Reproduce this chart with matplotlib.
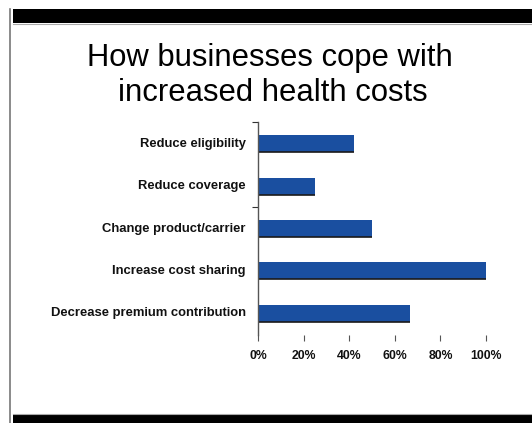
import matplotlib.pyplot as plt
from matplotlib.patches import Rectangle
from matplotlib.lines import Line2D

plt.rcParams['font.family'] = ['Liberation Sans', 'DejaVu Sans']

# chart data (top to bottom)
categories = ['Reduce eligibility', 'Reduce coverage', 'Change product/carrier',
              'Increase cost sharing', 'Decrease premium contribution']
values = [0.42, 0.25, 0.50, 1.00, 0.667]
xticks = [0, 0.2, 0.4, 0.6, 0.8, 1.0]
xtick_labels = ['0%', '20%', '40%', '60%', '80%', '100%']
title_lines = ['How businesses cope with', 'increased health costs']

W, H = 532, 423
fig = plt.figure(figsize=(W / 100, H / 100), dpi=100)

# slide frame: black bands top and bottom, grey line on the left
fig.add_artist(Rectangle((12.5 / W, 1 - 23.5 / H), 1, 14 / H, transform=fig.transFigure,
                         facecolor='black', edgecolor='none'))
fig.add_artist(Rectangle((12.5 / W, 0), 1, 8.8 / H, transform=fig.transFigure,
                         facecolor='black', edgecolor='none'))
fig.add_artist(Line2D([9.8 / W, 9.8 / W], [0, 1 - 9.5 / H], transform=fig.transFigure,
                      color='#777777', lw=1.2))
fig.add_artist(Line2D([12.5 / W, 1], [1 - 24.5 / H, 1 - 24.5 / H], transform=fig.transFigure,
                      color='#aaaaaa', lw=0.8))
fig.add_artist(Line2D([12.5 / W, 1], [9.5 / H, 9.5 / H], transform=fig.transFigure,
                      color='#aaaaaa', lw=0.8))

# title
fig.text(270 / W, 1 - 66 / H, title_lines[0], ha='center', va='baseline', fontsize=22.3)
fig.text(273 / W, 1 - 101 / H, title_lines[1], ha='center', va='baseline', fontsize=22.3)

ax = fig.add_axes([258 / W, 1 - 334.5 / H, 228 / W, 212 / H])
ypos = list(range(len(categories)))
ax.barh(ypos, values, height=0.4, color='#1A4FA0', edgecolor='none')
# dark shadow line along the bottom of each bar
ax.hlines([y + 0.2 for y in ypos], 0, values, color='#1a1a1a', lw=1.2)

ax.set_xlim(0, 1.0)
ax.set_ylim(len(categories) - 0.5, -0.5)

ax.set_yticks([-0.5, 1.5])
ax.set_yticklabels(['', ''])
ax.tick_params(axis='y', length=4, width=0.8, color='#333333', direction='out')
for y, lab in zip(ypos, categories):
    ax.text(-0.054, y, lab, ha='right', va='center', fontsize=9.4, fontweight='bold',
            color='#111111', transform=ax.transData)

ax.set_xticks(xticks)
ax.set_xticklabels(xtick_labels, fontsize=8.8, fontweight='bold', color='#111111')
ax.tick_params(axis='x', length=4, width=0.8, color='#555555', direction='out', pad=7)

for s in ['top', 'right', 'bottom']:
    ax.spines[s].set_visible(False)
ax.spines['left'].set_color('#555555')
ax.spines['left'].set_linewidth(1.0)
ax.set_facecolor('none')

fig.savefig('out.png', dpi=100)
